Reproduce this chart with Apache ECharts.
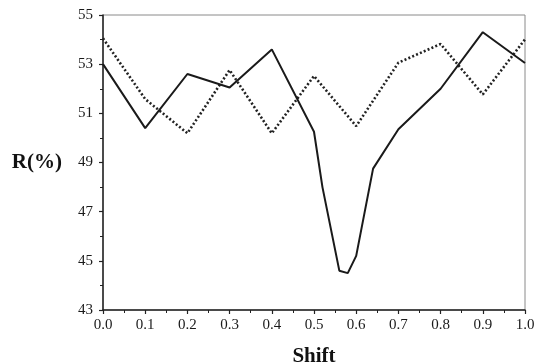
<!DOCTYPE html>
<html>
<head>
<meta charset="utf-8">
<script src="https://cdn.jsdelivr.net/npm/echarts@6/dist/echarts.min.js"></script>
<style>
html,body{margin:0;padding:0;background:#fff;}
#chart{width:538px;height:364px;}
</style>
</head>
<body>
<div id="chart"></div>
<script>
// Solid line (irregular x positions)
const solidX = [0.0, 0.1, 0.2, 0.3, 0.4, 0.5, 0.52, 0.56, 0.58, 0.6, 0.64, 0.7, 0.8, 0.9, 1.0];
const solidY = [53.0, 50.4, 52.6, 52.05, 53.6, 50.25, 48.0, 44.6, 44.5, 45.2, 48.75, 50.35, 52.0, 54.3, 53.05];
// Dotted line
const dottedX = [0.0, 0.1, 0.2, 0.3, 0.4, 0.5, 0.6, 0.7, 0.8, 0.9, 1.0];
const dottedY = [54.05, 51.58, 50.19, 52.76, 50.19, 52.52, 50.48, 53.06, 53.82, 51.77, 54.01];
const xTitle = 'Shift';
const yTitle = 'R(%)';

const font = '"Liberation Serif","DejaVu Serif",serif';
const chart = echarts.init(document.getElementById('chart'));
chart.setOption({
  backgroundColor: '#fff',
  animation: false,
  grid: {left: 103, right: 13, top: 15, bottom: 54, containLabel: false, outerBoundsMode: 'none',
    show: true, borderColor: '#8a8a8a', borderWidth: 1},
  xAxis: {
    type: 'value', min: 0, max: 1, interval: 0.1,
    name: xTitle, nameLocation: 'middle', nameGap: 36,
    nameTextStyle: {fontFamily: font, fontSize: 21, fontWeight: 'bold', color: '#111'},
    axisLine: {show: true, lineStyle: {color: '#222', width: 1.5}},
    axisTick: {show: true, inside: false, length: 4, lineStyle: {color: '#222', width: 1.2}},
    minorTick: {show: true, splitNumber: 2, length: 3, lineStyle: {color: '#222', width: 1}},
    splitLine: {show: false},
    axisLabel: {fontFamily: font, fontSize: 15, color: '#1a1a1a', margin: 8,
      formatter: v => v.toFixed(1)}
  },
  yAxis: {
    type: 'value', min: 43, max: 55, interval: 2,
    name: yTitle, nameLocation: 'middle', nameGap: 41, nameRotate: 0,
    nameTextStyle: {fontFamily: font, fontSize: 21, fontWeight: 'bold', color: '#111', padding: [13, 0, 0, 0]},
    axisLine: {show: true, lineStyle: {color: '#222', width: 1.5}},
    axisTick: {show: true, inside: false, length: 4, lineStyle: {color: '#222', width: 1.2}},
    minorTick: {show: true, splitNumber: 2, length: 3, lineStyle: {color: '#222', width: 1}},
    splitLine: {show: false},
    axisLabel: {fontFamily: font, fontSize: 15, color: '#1a1a1a', margin: 10}
  },
  series: [
    {
      type: 'line', showSymbol: false, symbol: 'none',
      data: solidX.map((x, i) => [x, solidY[i]]),
      lineStyle: {color: '#1a1a1a', width: 2, type: 'solid'},
      z: 3
    },
    {
      type: 'line', showSymbol: false, symbol: 'none',
      data: dottedX.map((x, i) => [x, dottedY[i]]),
      lineStyle: {color: '#222', width: 2.6, type: [2, 2.2]},
      z: 2
    }
  ]
});
</script>
</body>
</html>
